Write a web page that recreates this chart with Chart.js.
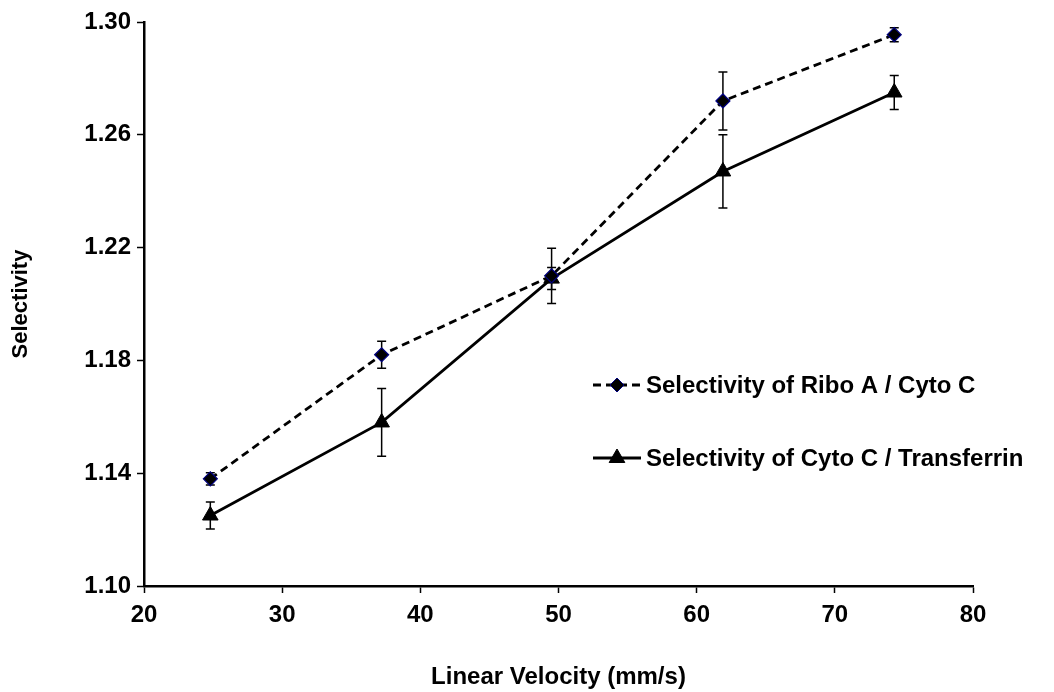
<!DOCTYPE html>
<html>
<head>
<meta charset="utf-8">
<script src="https://cdn.jsdelivr.net/npm/chart.js@4.4.1/dist/chart.umd.min.js"></script>
<style>
  body { margin: 0; background: #fff; }
  canvas { display: block; }
</style>
</head>
<body>
<canvas id="myChart" width="1054" height="692"></canvas>
<script>
// data
const velocity = [24.8, 37.2, 49.5, 61.9, 74.3];
const riboCyto = [1.138, 1.182, 1.210, 1.272, 1.2955];
const riboCytoErr = [0.0022, 0.0048, 0.0098, 0.0103, 0.0025];
const cytoTransferrin = [1.125, 1.158, 1.209, 1.247, 1.275];
const cytoTransferrinErr = [0.0048, 0.012, 0.0039, 0.013, 0.006];
const seriesNames = ["Selectivity of Ribo A / Cyto C", "Selectivity of Cyto C / Transferrin"];
const xTicks = [20, 30, 40, 50, 60, 70, 80];
const yTicks = [1.10, 1.14, 1.18, 1.22, 1.26, 1.30];

const errors = [riboCytoErr, cytoTransferrinErr];
const FONT = "'Liberation Sans', Arial, sans-serif";

function toPoints(xs, ys) {
  return xs.map((x, i) => ({ x: x, y: ys[i] }));
}

// error bars drawn through the scales
const errorBars = {
  id: "errorBars",
  beforeDatasetsDraw(chart) {
    const ctx = chart.ctx;
    const xs = chart.scales.x;
    const ys = chart.scales.y;
    ctx.save();
    ctx.strokeStyle = "#000";
    ctx.lineWidth = 1.5;
    chart.data.datasets.forEach((ds, d) => {
      ds.data.forEach((p, i) => {
        const e = errors[d][i];
        const px = xs.getPixelForValue(p.x);
        const top = ys.getPixelForValue(p.y + e);
        const bot = ys.getPixelForValue(p.y - e);
        ctx.beginPath();
        ctx.moveTo(px, top); ctx.lineTo(px, bot);
        ctx.moveTo(px - 4.5, top); ctx.lineTo(px + 4.5, top);
        ctx.moveTo(px - 4.5, bot); ctx.lineTo(px + 4.5, bot);
        ctx.stroke();
      });
    });
    ctx.restore();
  }
};

function drawMarker(ctx, style, x, y, r, fill, stroke) {
  ctx.beginPath();
  if (style === "rectRot") {
    ctx.moveTo(x, y - r); ctx.lineTo(x + r, y); ctx.lineTo(x, y + r); ctx.lineTo(x - r, y);
  } else {
    ctx.moveTo(x, y - r); ctx.lineTo(x + r * 0.87, y + r * 0.5); ctx.lineTo(x - r * 0.87, y + r * 0.5);
  }
  ctx.closePath();
  ctx.fillStyle = fill;
  ctx.fill();
  ctx.strokeStyle = stroke;
  ctx.lineWidth = 1;
  ctx.stroke();
}

// legend inside plot, like the original
const insideLegend = {
  id: "insideLegend",
  afterDraw(chart) {
    const ctx = chart.ctx;
    const rows = [385, 458];
    ctx.save();
    chart.data.datasets.forEach((ds, d) => {
      const y = rows[d];
      ctx.strokeStyle = ds.borderColor;
      ctx.lineWidth = ds.borderWidth;
      ctx.setLineDash(ds.borderDash || []);
      ctx.beginPath();
      ctx.moveTo(593, y); ctx.lineTo(641, y);
      ctx.stroke();
      ctx.setLineDash([]);
      drawMarker(ctx, ds.pointStyle, 617, y, ds.pointRadius, ds.pointBackgroundColor, ds.pointBorderColor);
      ctx.fillStyle = "#000";
      ctx.font = "bold 24px " + FONT;
      ctx.textBaseline = "middle";
      ctx.textAlign = "left";
      ctx.fillText(ds.label, 646, y + 1);
    });
    ctx.restore();
  }
};

const ctx = document.getElementById("myChart").getContext("2d");
new Chart(ctx, {
  type: "line",
  data: {
    datasets: [{
      label: seriesNames[0],
      data: toPoints(velocity, riboCyto),
      borderColor: "#000",
      borderWidth: 2.8,
      borderDash: [8, 5],
      pointStyle: "rectRot",
      pointRadius: 7,
      pointBackgroundColor: "#000",
      pointBorderColor: "#000080",
      pointBorderWidth: 1.2,
      fill: false
    }, {
      label: seriesNames[1],
      data: toPoints(velocity, cytoTransferrin),
      borderColor: "#000",
      borderWidth: 2.8,
      pointStyle: "triangle",
      pointRadius: 9,
      pointBackgroundColor: "#000",
      pointBorderColor: "#000",
      pointBorderWidth: 1,
      fill: false
    }]
  },
  options: {
    responsive: false,
    animation: false,
    layout: { padding: { top: 22, right: 81, bottom: 0, left: 0 } },
    plugins: {
      legend: { display: false },
      tooltip: { enabled: false }
    },
    scales: {
      x: {
        type: "linear",
        min: 20,
        max: 80,
        afterBuildTicks: (s) => { s.ticks = xTicks.map(v => ({ value: v })); },
        afterFit: (s) => { s.height = 106; },
        grid: { drawOnChartArea: false, tickLength: 7, color: "#000", tickWidth: 1.5 },
        border: { color: "#000", width: 2.5 },
        ticks: { color: "#000", padding: 8, font: { family: FONT, size: 24, weight: "bold" } },
        title: {
          display: true,
          text: "Linear Velocity (mm/s)",
          color: "#000",
          padding: { top: 0, bottom: 0 },
          font: { family: FONT, size: 24, weight: "bold" }
        }
      },
      y: {
        min: 1.10,
        max: 1.30,
        afterBuildTicks: (s) => { s.ticks = yTicks.map(v => ({ value: v })); },
        afterFit: (s) => { s.width = 144; },
        grid: { drawOnChartArea: false, tickLength: 7, color: "#000", tickWidth: 1.5 },
        border: { color: "#000", width: 2.5 },
        ticks: {
          color: "#000",
          padding: 6,
          font: { family: FONT, size: 24, weight: "bold" },
          callback: (v) => Number(v).toFixed(2)
        },
        title: {
          display: true,
          text: "Selectivity",
          color: "#000",
          padding: { top: 8, bottom: 0 },
          font: { family: FONT, size: 22, weight: "bold" }
        }
      }
    }
  },
  plugins: [errorBars, insideLegend]
});
</script>
</body>
</html>
